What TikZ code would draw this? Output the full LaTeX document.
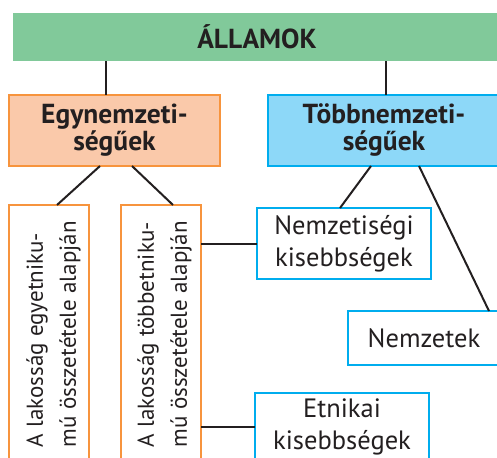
\documentclass[tikz,border=0pt]{standalone}
\usepackage{fontspec}
\setmainfont{PT Sans}
\definecolor{grn}{HTML}{81C99A}
\definecolor{orf}{HTML}{FAC9AA}
\definecolor{ord}{HTML}{F7943D}
\definecolor{blf}{HTML}{8DD8F8}
\definecolor{bld}{HTML}{00ADEE}
\definecolor{ink}{HTML}{231F20}
\begin{document}
\begin{tikzpicture}[x=1pt,y=-1pt,
  every node/.style={inner sep=0pt, outer sep=0pt, text=ink},
  head/.style={font=\fontsize{27.5}{27}\selectfont\bfseries, align=center},
  greenbox/.style={head, fill=grn},
  orbox/.style={head, fill=orf, draw=ord, line width=2pt},
  blbox/.style={head, fill=blf, draw=bld, line width=2pt},
  vbox/.style={draw=ord, fill=white, line width=2pt},
  wbox/.style={draw=bld, fill=white, line width=2pt, align=center, font=\fontsize{26.5}{32}\selectfont},
  vtext/.style={rotate=90, anchor=west, align=left, font=\fontsize{23}{33}\selectfont},
  conn/.style={draw=ink, line width=2pt}]
\useasboundingbox (0,0) rectangle (497,457);
\clip (0,0) rectangle (497,457);
\fill[white] (0,0) rectangle (497,457);
\node[greenbox, minimum width=488, minimum height=48] (top) at (257,37) {ÁLLAMOK};
\node[orbox, minimum width=211, minimum height=71] (eg) at (114.5,130.5) {Egynemzeti-\\ségűek};
\node[blbox, minimum width=232, minimum height=71] (tb) at (384,130.5) {Többnemzeti-\\ségűek};
\node[vbox, minimum width=80, minimum height=270] (v1) at (49,340) {};
\node[vbox, minimum width=80, minimum height=270] (v2) at (161,340) {};
\node[vtext] (t1) at (53.5,447) {A lakosság egyetniku-\\mú összetétele alapján};
\node[vtext] (t2) at (164.5,447) {A lakosság többetniku-\\mú összetétele alapján};
\node[wbox, minimum width=174, minimum height=71] (nk) at (344,243.5) {Nemzetiségi\\kisebbségek};
\node[wbox, minimum width=152, minimum height=54] (nem) at (424,338) {Nemzetek};
\node[wbox, minimum width=174, minimum height=68] (et) at (342,427) {Etnikai\\kisebbségek};
\draw[conn] ([xshift=-8.5]eg.north) -- ([xshift=-8.5]eg.north |- top.south);
\draw[conn] ([xshift=2]tb.north) -- ([xshift=2]tb.north |- top.south);
\draw[conn] ([xshift=-14.5]eg.south) -- ([xshift=8]v1.north);
\draw[conn] ([xshift=17.5]eg.south) -- ([xshift=12]v2.north);
\draw[conn] ([xshift=-13]tb.south) -- ([xshift=-4]nk.north);
\draw[conn] ([xshift=35]tb.south) -- ([xshift=65]nem.north);
\draw[conn] (nk.west -| v2.east) -- (nk.west);
\draw[conn] (et.west -| v2.east) -- (et.west);
\end{tikzpicture}
\end{document}
